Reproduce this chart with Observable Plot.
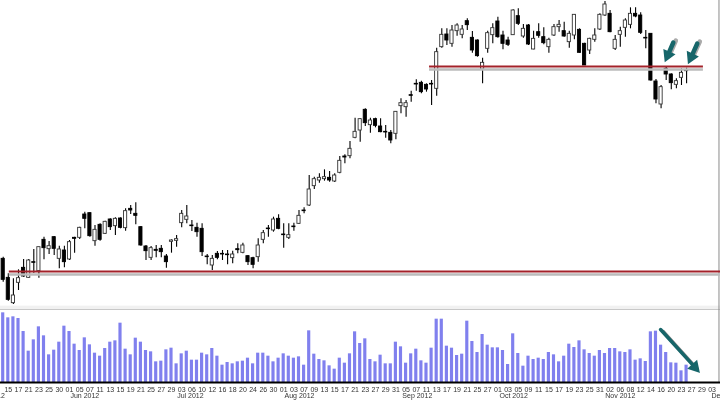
<!DOCTYPE html>
<html>
<head>
<meta charset="utf-8">
<script src="https://cdn.jsdelivr.net/npm/d3@7"></script>
<script src="https://cdn.jsdelivr.net/npm/@observablehq/plot@0.6"></script>
<style>
html,body{margin:0;padding:0;background:#fff;overflow:hidden}
svg{display:block;filter:blur(0.3px)}
g[aria-label="shade"]{filter:blur(1.2px)}
</style>
</head>
<body>
<div id="chart"></div>
<script>
const opens = [155,98,22,83,128,98,145,118,212,184,220,155,180,153,218,218,288,292,208,257,230,273,253,276,247,305,290,250,192,158,182,185,162,206,209,262,272,255,248,245,162,135,170,170,168,157,184,
173,163,157,160,212,246,240,275,228,218,252,260,300,315,373,390,394,398,387,413,462,463,518,540,602,556,574,552,536,533,530,613,610,646,680,683,677,680,
665,790,828,800,838,827,868,818,810,723,785,826,867,825,810,826,883,822,855,783,835,820,790,825,850,838,805,
825,842,800,780,812,843,885,890,785,827,848,857,890,885,818,830,687,618,725,708,677,698,721];
const highs = [160,110,95,122,153,153,183,190,220,207,222,193,193,210,220,250,295,293,255,260,268,275,278,278,305,315,323,252,195,192,195,195,168,212,225,300,315,270,262,260,168,165,177,180,180,178,200,
202,165,160,215,240,255,280,287,260,260,262,300,308,405,400,410,422,417,410,462,467,507,577,576,605,577,577,575,555,540,597,635,630,658,692,688,680,690,
787,845,845,855,860,855,875,837,812,757,838,860,880,838,820,902,905,858,858,838,860,848,817,858,870,865,838,
887,845,802,817,845,890,927,900,825,850,875,908,908,893,840,830,693,675,730,710,695,725,727];
const lows = [85,28,18,60,100,97,112,97,152,168,165,125,128,150,172,213,245,220,193,208,228,240,225,245,238,288,257,193,150,150,158,158,127,172,190,248,260,237,220,162,137,120,152,150,137,140,170,
170,135,125,145,200,220,235,242,187,213,238,258,290,312,363,382,388,385,384,410,440,455,515,505,552,532,548,533,517,500,512,590,580,625,658,650,655,615,
643,787,795,790,823,815,840,772,760,680,772,800,817,782,792,825,855,817,795,782,817,797,772,822,835,820,787,
812,772,735,768,805,840,882,833,780,790,820,845,878,828,785,688,620,605,690,662,665,675,680];
const closes = [92,32,45,97,102,150,143,190,187,193,185,183,145,205,215,248,275,223,242,212,266,250,275,248,298,300,284,195,178,187,179,175,145,210,214,290,282,253,235,175,160,155,158,168,166,168,181,
195,145,137,195,232,244,273,245,226,226,250,284,298,363,394,398,400,390,405,449,459,485,536,574,562,570,554,535,534,510,596,622,622,644,678,655,663,678,
775,827,810,840,855,843,856,780,763,743,832,847,820,800,797,900,860,845,798,815,824,802,812,850,857,822,830,
887,773,735,815,825,887,918,835,812,838,870,890,882,833,816,690,633,670,708,682,688,713,718];
const volumes = [209,194,197,192,153,94,128,167,140,83,97,121,169,153,115,96,134,113,88,79,102,121,125,178,100,83,133,121,96,92,62,64,98,103,56,86,94,67,67,88,83,102,79,52,60,56,62,
64,73,56,88,88,79,62,73,86,79,73,77,52,155,85,69,65,50,40,73,58,86,152,117,131,69,62,82,56,56,121,107,58,86,100,65,58,103,190,190,109,103,81,85,184,123,90,
144,112,104,104,96,54,146,87,49,79,69,73,69,90,83,62,79,115,105,125,98,87,79,96,87,102,102,92,90,98,67,71,63,152,154,112,90,59,58,35,52];
const dayLabels = ["15","17","21","23","25","30","01","05","07","11","13","15","19","21","25","27","29","03","06","10","12","16","18",
"20","24","26","30","01","03","07","09","13","15","17","21","23","27","29","31","05","07","11","13","17","19","21","25",
"27","01","03","05","09","11","15","17","19","23","25","31","02","06","08","12","14","16","20","23","27","29","03"];
const monthLabels = ["May 2012","Jun 2012","Jul 2012","Aug 2012","Sep 2012","Oct 2012","Nov 2012","Dec 2012"];
const monthSlots = [-2.7,16,36.7,58.1,81.2,100.1,121,141.8];
const supportLevels = [{level:117,from:1.2,to:141},{level:732,from:83.6,to:137.3}];
const priceArrows = [
  {x1:131.4,y1:804,x2:130.33,y2:766,angle:-156},
  {x1:136.1,y1:801,x2:134.9,y2:760,angle:-155}
];
const volumeArrows = [{x1:128.9,y1:159,x2:135.6,y2:46,angle:138}];
const XDOM = [-0.53,140.65], WIDTH = 720;

const bars = opens.map((o,i)=>({i,o,h:highs[i],l:lows[i],c:closes[i],v:volumes[i],up:closes[i]>o}));
const days = dayLabels.map((t,k)=>({i:1+2*k,t}));
const months = monthLabels.map((t,k)=>({i:monthSlots[k],t}));
const teal = "#17666a";

const price = Plot.plot({
  width:WIDTH,height:310,margin:0,
  x:{domain:XDOM,range:[0,WIDTH],axis:null},
  y:{domain:[0,930],range:[310,0],axis:null},
  marks:[
    Plot.rect([0],{x1:XDOM[0],x2:XDOM[1],y1:2,y2:13,fill:"#f1f1f1"}),
    Plot.ruleY([2],{stroke:"#b0b0b0",strokeWidth:1}),
    Plot.ruleX([140.35],{stroke:"#8a8a8a",strokeWidth:1}),
    Plot.ruleX(bars,{x:"i",y1:"l",y2:"h",stroke:"#000",strokeWidth:1.1}),
    Plot.rect(bars,{x1:d=>d.i-0.31,x2:d=>d.i+0.31,y1:"o",y2:"c",fill:d=>d.up?"#fff":"#000",stroke:d=>d.up?"#333":"#000",strokeWidth:0.9}),
    Plot.ruleY(supportLevels,{y:d=>d.level-9,x1:"from",x2:"to",stroke:"#bbb",strokeWidth:2.5,ariaLabel:"shade"}),
    Plot.ruleY(supportLevels,{y:"level",x1:"from",x2:"to",stroke:"#a3222a",strokeWidth:2}),
    Plot.link(priceArrows,{x1:d=>d.x1+0.5,y1:d=>d.y1+6,x2:d=>d.x2+0.5,y2:d=>d.y2+6,stroke:"#aaa",strokeWidth:4.5,strokeLinecap:"round",ariaLabel:"shade"}),
    Plot.link(priceArrows,{x1:"x1",y1:"y1",x2:"x2",y2:"y2",stroke:teal,strokeWidth:4.5,strokeLinecap:"round"}),
    Plot.dot(priceArrows,{x:"x2",y:"y2",symbol:"triangle",r:4,rotate:"angle",fill:teal,stroke:teal})
  ]
});

const volume = Plot.plot({
  width:WIDTH,height:90,marginTop:0,marginLeft:0,marginRight:0,marginBottom:18,
  x:{domain:XDOM,range:[0,WIDTH],axis:null},
  y:{domain:[0,216],range:[72,0],axis:null},
  marks:[
    Plot.ruleX([140.35],{stroke:"#8a8a8a",strokeWidth:1}),
    Plot.rectY(bars,{x1:d=>d.i-0.31,x2:d=>d.i+0.31,y1:0,y2:"v",fill:"#8080ee"}),
    Plot.ruleY([0],{stroke:"#000",strokeWidth:2}),
    Plot.link(volumeArrows,{x1:d=>d.x1+0.5,y1:d=>d.y1-6,x2:d=>d.x2+0.5,y2:d=>d.y2-6,stroke:"#888",strokeWidth:3.5,strokeLinecap:"round",ariaLabel:"shade"}),
    Plot.link(volumeArrows,{x1:"x1",y1:"y1",x2:"x2",y2:"y2",stroke:teal,strokeWidth:3.5,strokeLinecap:"round"}),
    Plot.dot(volumeArrows,{x:"x2",y:"y2",symbol:"triangle",r:4,rotate:"angle",fill:teal,stroke:teal}),
    Plot.text(days,{x:"i",y:0,text:"t",dy:7,fontSize:7,fill:"#333",fontFamily:"Liberation Sans"}),
    Plot.text(months,{x:"i",y:0,text:"t",dy:13.5,fontSize:7,fill:"#333",fontFamily:"Liberation Sans"})
  ]
});
volume.style.overflow="hidden";
document.getElementById("chart").append(price,volume);
</script>
</body>
</html>
